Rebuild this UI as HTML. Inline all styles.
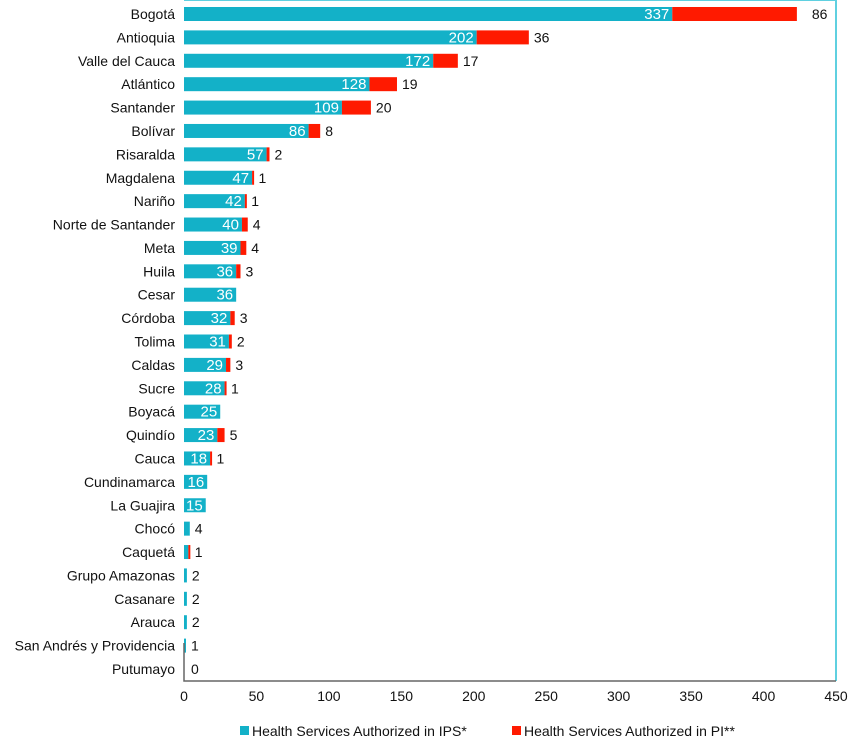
<!DOCTYPE html>
<html><head><meta charset="utf-8"><style>
body{margin:0;background:#fff;width:850px;height:744px;overflow:hidden}
svg{font-family:"Liberation Sans",sans-serif}
</style></head><body>
<svg id="chart" width="850" height="744"></svg>
<script>
const categories=["Bogotá","Antioquia","Valle del Cauca","Atlántico","Santander","Bolívar","Risaralda","Magdalena","Nariño","Norte de Santander","Meta","Huila","Cesar","Córdoba","Tolima","Caldas","Sucre","Boyacá","Quindío","Cauca","Cundinamarca","La Guajira","Chocó","Caquetá","Grupo Amazonas","Casanare","Arauca","San Andrés y Providencia","Putumayo"];
const ipsValues=[337,202,172,128,109,86,57,47,42,40,39,36,36,32,31,29,28,25,23,18,16,15,4,3,2,2,2,1,0];
const piValues=[86,36,17,19,20,8,2,1,1,4,4,3,0,3,2,3,1,0,5,1,0,0,0,1,0,0,0,0,0];
const xTicks=[0,50,100,150,200,250,300,350,400,450];
const NS="http://www.w3.org/2000/svg";
const svg=document.getElementById('chart');
const x0=184,x1=836,xMax=450;
const xs=v=>x0+v*(x1-x0)/xMax;
const y0=14,step=(669-14)/28;
const ys=i=>y0+i*step;
const bh=14;
function mk(t,a,txt){const e=document.createElementNS(NS,t);for(const k in a)e.setAttribute(k,a[k]);if(txt!==undefined)e.textContent=txt;svg.appendChild(e);return e;}
let b=mk('path',{d:`M${x0} 0H${x1}V681`,fill:'none',stroke:'#5fd0e0','stroke-width':2});


categories.forEach((c,i)=>{
  const y=ys(i);
  let t=mk('text',{x:175,y:y+5,'text-anchor':'end','font-size':14,fill:'#111'},c);
  
  
  const ip=ipsValues[i],pi=piValues[i];
  if(ip>0){
    let r=mk('rect',{x:xs(0),y:y-bh/2,width:Math.max(xs(ip)-xs(0),2),height:bh,fill:'#13b1c8'});
    
    
  }
  if(pi>0){
    let r=mk('rect',{x:xs(ip),y:y-bh/2,width:Math.max(xs(ip+pi)-xs(ip),2),height:bh,fill:'#ff1a00'});
    
    
  }
  if(ip>=10){
    let l=mk('text',{x:xs(ip)-3,y:y+5,'text-anchor':'end','font-size':15,fill:'#fff'},ip);
    
    
  }
  let end=xs(ip+pi);
  let out=pi>0?pi:(ip<10?ip:null);
  if(out!==null){
    let gap=pi>=50?15:5;
    let l=mk('text',{x:Math.max(end,x0+2)+gap,y:y+5,'font-size':14,fill:'#111'},out);
    
    
  }
});
let ax=mk('path',{d:`M${x0} 643V681H${x1}`,fill:'none',stroke:'#666','stroke-width':1.5});


xTicks.forEach(v=>{
  let t=mk('text',{x:xs(v),y:701,'text-anchor':'middle','font-size':14,fill:'#111'},v);
  
  
});
let s1=mk('rect',{x:240,y:726,width:9,height:9,fill:'#13b1c8'});


let l1=mk('text',{x:252,y:736,'font-size':14,fill:'#111'},'Health Services Authorized in IPS*');


let s2=mk('rect',{x:512,y:726,width:9,height:9,fill:'#ff1a00'});


let l2=mk('text',{x:524,y:736,'font-size':14,fill:'#111'},'Health Services Authorized in PI**');


</script>
</body></html>
